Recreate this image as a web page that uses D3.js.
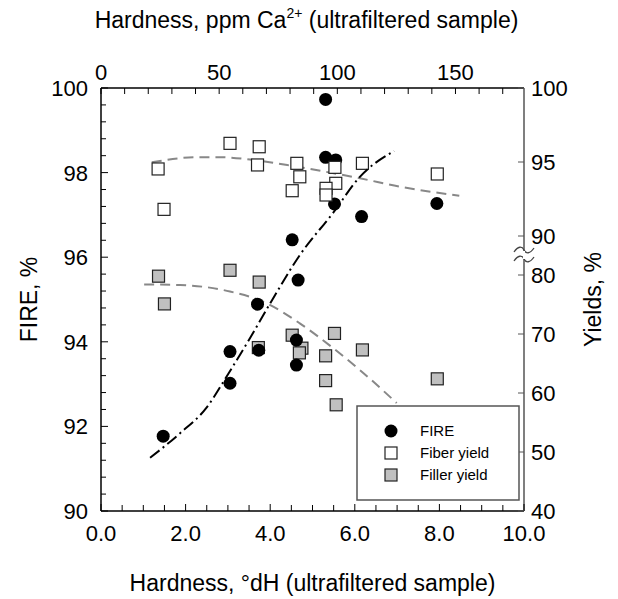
<!DOCTYPE html>
<html lang="en">
<head>
  <meta charset="UTF-8">
  <title>FIRE and yields vs hardness</title>
  <script src="https://d3js.org/d3.v7.min.js"></script>
  <style>
    body { margin: 0; background: #fff; }
    svg { display: block; font-family: Arial, "Liberation Sans", sans-serif; }
    .lab { font-size: 22px; fill: #000; }
    .ttl { font-size: 23px; fill: #000; }
  </style>
</head>
<body>
  <svg width="618" height="599"></svg>

  <script>
    // FIRE, % (left axis) vs hardness in °dH
    const fireX = [1.47, 3.05, 3.05, 3.70, 3.73, 4.52, 4.66, 4.62, 4.62, 5.31, 5.31, 5.55, 5.52, 6.16, 7.94];
    const fireY = [91.77, 93.77, 93.02, 94.89, 93.80, 96.41, 95.46, 94.04, 93.45, 99.73, 98.36, 98.30, 97.26, 96.96, 97.27];

    // Fiber yield, % (right axis, upper part)
    const fiberX = [1.35, 1.49, 3.05, 3.74, 3.70, 4.63, 4.70, 4.52, 5.53, 5.55, 5.32, 5.32, 6.18, 7.95];
    const fiberY = [94.53, 91.80, 96.26, 96.03, 94.80, 94.91, 94.00, 93.06, 94.64, 93.56, 93.22, 92.77, 94.91, 94.19];

    // Filler yield, % (right axis, lower part)
    const fillerX = [1.36, 1.50, 3.05, 3.74, 3.72, 4.52, 4.75, 4.69, 5.52, 5.31, 6.18, 5.31, 5.56, 7.95];
    const fillerY = [79.8, 75.1, 80.8, 78.8, 67.7, 69.8, 67.6, 66.8, 70.1, 66.3, 67.3, 62.1, 58.0, 62.4];

    // fitted curves
    const fireFitX = [1.16, 1.87, 2.50, 2.97, 3.50, 4.00, 4.70, 5.48, 6.12, 6.93];
    const fireFitY = [91.26, 91.84, 92.45, 93.18, 94.05, 94.91, 96.05, 97.04, 97.90, 98.51];
    const fiberFitX = [1.20, 2.26, 2.81, 3.60, 4.63, 6.12, 7.07, 8.47];
    const fiberFitY = [94.98, 95.32, 95.32, 95.14, 94.68, 93.90, 93.33, 92.72];
    const fillerFitX = [1.02, 1.87, 3.05, 3.92, 4.70, 5.49, 6.12, 6.99];
    const fillerFitY = [78.4, 78.3, 77.2, 75.2, 71.8, 67.6, 63.9, 58.3];

    const bottomTicks = [0, 2, 4, 6, 8, 10];
    const topTicks = [0, 50, 100, 150];
    const leftTicks = [90, 92, 94, 96, 98, 100];
    const rightUpperTicks = [90, 95, 100];
    const rightLowerTicks = [40, 50, 60, 70, 80];
    const legendNames = ["FIRE", "Fiber yield", "Filler yield"];

    const svg = d3.select("svg");
    const W = 618, H = 599;
    const margin = { top: 88, right: 94, bottom: 88, left: 101 };
    const x0 = margin.left, x1 = W - margin.right, y0 = margin.top, y1 = H - margin.bottom;

    const x = d3.scaleLinear().domain([0, 10]).range([x0, x1]);
    const xTop = d3.scaleLinear().domain([0, 179]).range([x0, x1]);
    const yFire = d3.scaleLinear().domain([90, 100]).range([y1, y0]);
    const breakTop = 236, breakBot = 275;
    const yUp = d3.scaleLinear().domain([90, 100]).range([breakTop, y0]);
    const yLow = d3.scaleLinear().domain([40, 80]).range([y1, breakBot]);
    const yYield = v => v >= 85 ? yUp(v) : yLow(v);

    // frame
    svg.append("line").attr("x1", x0).attr("x2", x1).attr("y1", y1).attr("y2", y1).attr("stroke", "#000").attr("stroke-width", 1.5);
    svg.append("line").attr("x1", x0).attr("x2", x1).attr("y1", y0).attr("y2", y0).attr("stroke", "#000").attr("stroke-width", 1.5);
    svg.append("line").attr("x1", x0).attr("x2", x0).attr("y1", y0).attr("y2", y1).attr("stroke", "#000").attr("stroke-width", 1.5);
    svg.append("line").attr("x1", x1).attr("x2", x1).attr("y1", y0).attr("y2", y1).attr("stroke", "#555").attr("stroke-width", 1.5);

    // bottom axis
    const bAxis = svg.append("g");
    bAxis.selectAll("line").data(d3.range(0, 10.01, 0.5)).join("line")
      .attr("x1", d => x(d)).attr("x2", d => x(d))
      .attr("y1", y1).attr("y2", d => y1 - (d % 2 === 0 ? 7 : 6))
      .attr("stroke", "#000");
    bAxis.selectAll("text").data(bottomTicks).join("text").attr("class", "lab")
      .attr("x", d => x(d)).attr("y", 541).attr("text-anchor", "middle")
      .text(d => d.toFixed(1));

    // top axis
    const tAxis = svg.append("g");
    tAxis.selectAll("line").data(d3.range(0, 171, 10)).join("line")
      .attr("x1", d => xTop(d)).attr("x2", d => xTop(d))
      .attr("y1", y0).attr("y2", y0 + 6)
      .attr("stroke", "#000");
    tAxis.selectAll("text").data(topTicks).join("text").attr("class", "lab")
      .attr("x", d => xTop(d)).attr("y", 80).attr("text-anchor", "middle")
      .text(d => d);

    // left axis
    const lAxis = svg.append("g");
    lAxis.selectAll("line").data(d3.range(90, 100.01, 0.4)).join("line")
      .attr("x1", x0).attr("x2", d => x0 + (Math.abs(d - Math.round(d / 2) * 2) < 0.01 ? 7 : 5))
      .attr("y1", d => yFire(d)).attr("y2", d => yFire(d))
      .attr("stroke", "#000");
    lAxis.selectAll("text").data(leftTicks).join("text").attr("class", "lab")
      .attr("x", 88).attr("y", d => yFire(d)).attr("dy", "0.36em").attr("text-anchor", "end")
      .text(d => d);

    // right axis (broken)
    const rAxis = svg.append("g");
    const rTicks = rightUpperTicks.map(v => yUp(v)).concat(rightLowerTicks.map(v => yLow(v)));
    rAxis.selectAll("line").data(rTicks).join("line")
      .attr("x1", x1).attr("x2", x1 - 6).attr("y1", d => d).attr("y2", d => d)
      .attr("stroke", "#555");
    rAxis.selectAll("text.u").data(rightUpperTicks).join("text").attr("class", "lab")
      .attr("x", 531).attr("y", d => yUp(d)).attr("dy", "0.36em").text(d => d);
    rAxis.selectAll("text.l").data(rightLowerTicks).join("text").attr("class", "lab")
      .attr("x", 531).attr("y", d => yLow(d)).attr("dy", "0.36em").text(d => d);

    // break marks
    const bm = svg.append("g").attr("fill", "none").attr("stroke", "#444").attr("stroke-width", 1.3);
    [250, 259].forEach(yy => {
      bm.append("path").attr("d", `M${x1 - 10},${yy + 2} C${x1 - 6},${yy - 4} ${x1 - 2},${yy - 4} ${x1},${yy} S${x1 + 6},${yy + 4} ${x1 + 10},${yy - 2}`);
    });
    svg.append("rect").attr("x", x1 - 1).attr("y", 251).attr("width", 2).attr("height", 8).attr("fill", "#fff");

    // curves
    const line = d3.line().curve(d3.curveMonotoneX);
    svg.append("path")
      .attr("d", line.x(d => x(d[0])).y(d => yYield(d[1]))(d3.zip(fiberFitX, fiberFitY)))
      .attr("fill", "none").attr("stroke", "#888").attr("stroke-width", 2).attr("stroke-dasharray", "10,6");
    svg.append("path")
      .attr("d", line.x(d => x(d[0])).y(d => yLow(d[1]))(d3.zip(fillerFitX, fillerFitY)))
      .attr("fill", "none").attr("stroke", "#888").attr("stroke-width", 2).attr("stroke-dasharray", "10,6");

    // points
    const sq = 12;
    svg.append("g").selectAll("rect").data(d3.zip(fillerX, fillerY)).join("rect")
      .attr("x", d => x(d[0]) - sq / 2).attr("y", d => yLow(d[1]) - sq / 2)
      .attr("width", sq).attr("height", sq)
      .attr("fill", "#c0c0c0").attr("stroke", "#222").attr("stroke-width", 1.2);
    svg.append("g").selectAll("circle").data(d3.zip(fireX, fireY)).join("circle")
      .attr("cx", d => x(d[0])).attr("cy", d => yFire(d[1])).attr("r", 6.5)
      .attr("fill", "#000");
    svg.append("g").selectAll("rect").data(d3.zip(fiberX, fiberY)).join("rect")
      .attr("x", d => x(d[0]) - sq / 2).attr("y", d => yUp(d[1]) - sq / 2)
      .attr("width", sq).attr("height", sq)
      .attr("fill", "#fff").attr("stroke", "#222").attr("stroke-width", 1.2);

    svg.append("path")
      .attr("d", line.x(d => x(d[0])).y(d => yFire(d[1]))(d3.zip(fireFitX, fireFitY)))
      .attr("fill", "none").attr("stroke", "#000").attr("stroke-width", 2).attr("stroke-dasharray", "12,4,2,4");

    // legend
    const lg = svg.append("g");
    lg.append("rect").attr("x", 357).attr("y", 406).attr("width", 162).attr("height", 94)
      .attr("fill", "#fff").attr("stroke", "#555").attr("stroke-width", 1.5);
    const rows = [431, 453, 475];
    lg.append("circle").attr("cx", 391).attr("cy", rows[0]).attr("r", 6.5).attr("fill", "#000");
    lg.append("rect").attr("x", 385).attr("y", rows[1] - 6).attr("width", sq).attr("height", sq)
      .attr("fill", "#fff").attr("stroke", "#222").attr("stroke-width", 1.2);
    lg.append("rect").attr("x", 385).attr("y", rows[2] - 6).attr("width", sq).attr("height", sq)
      .attr("fill", "#c0c0c0").attr("stroke", "#222").attr("stroke-width", 1.2);
    lg.selectAll("text").data(legendNames).join("text")
      .attr("x", 420).attr("y", (d, i) => rows[i]).attr("dy", "0.36em")
      .attr("font-size", 15).text(d => d);

    // axis titles
    svg.append("text").attr("class", "ttl").attr("x", (x0 + x1) / 2).attr("y", 591)
      .attr("text-anchor", "middle").text("Hardness, °dH (ultrafiltered sample)");
    const tt = svg.append("text").attr("class", "ttl").attr("x", (x0 + x1) / 2 - 6).attr("y", 28)
      .attr("text-anchor", "middle");
    tt.append("tspan").text("Hardness, ppm Ca");
    tt.append("tspan").attr("font-size", 14).attr("dy", -10).text("2+");
    tt.append("tspan").attr("dy", 10).text(" (ultrafiltered sample)");
    svg.append("text").attr("class", "ttl").attr("transform", `translate(37,${(y0 + y1) / 2}) rotate(-90)`)
      .attr("text-anchor", "middle").text("FIRE, %");
    svg.append("text").attr("class", "ttl").attr("transform", `translate(601,${(y0 + y1) / 2}) rotate(-90)`)
      .attr("text-anchor", "middle").text("Yields, %");
  </script>
</body>
</html>
